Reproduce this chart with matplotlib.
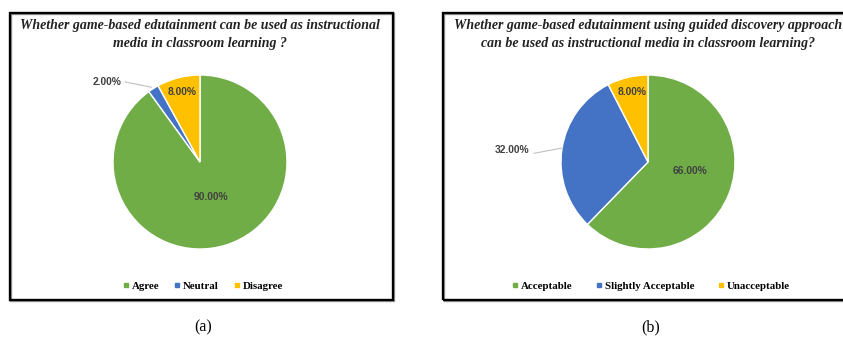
import numpy as np
import matplotlib.pyplot as plt
from matplotlib.patches import Rectangle
from matplotlib.lines import Line2D

W, H = 843, 341

# data
labels_a = ['Agree', 'Neutral', 'Disagree']
values_a = [90, 2, 8]
labels_b = ['Acceptable', 'Slightly Acceptable', 'Unacceptable']
values_b = [66, 32, 8]
colors = ['#70AD47', '#4472C4', '#FFC000']

title_a = 'Whether game-based edutainment can be used as instructional\nmedia in classroom learning ?'
title_b = 'Whether game-based edutainment using guided discovery approach\ncan be used as instructional media in classroom learning?'

# label positions (pie units) and leader lines
pos_a = [(0.12, -0.40), (-1.07, 0.92), (-0.21, 0.80)]
pos_b = [(0.48, -0.10), (-1.56, 0.14), (-0.18, 0.80)]
lead_a = {1: [(-0.86, 0.92), (-0.56, 0.86)]}
lead_b = {1: [(-1.31, 0.10), (-0.99, 0.16)]}

fig = plt.figure(figsize=(W / 100, H / 100), dpi=100)


def fx(px):
    return px / W


def fy(py):
    return 1 - py / H


def box(x0, x1, y0, y1):
    for off, col in [(1.2, '#a0a0a0'), (0, 'black')]:
        r = Rectangle((fx(x0 + off), fy(y1 + off)), fx(x1 - x0), (y1 - y0) / H,
                      transform=fig.transFigure, fill=False, ec=col, lw=1.7,
                      clip_on=False)
        fig.patches.append(r)


def panel(cx, cy, rad, values, labels, title, tcx, pos, leads, legx, colsp):
    ax = fig.add_axes([fx(cx - rad), fy(cy + rad), 2 * rad / W, 2 * rad / H])
    wedges, _ = ax.pie(values, colors=colors, startangle=90, counterclock=False,
                       wedgeprops=dict(edgecolor='white', linewidth=1.0))
    ax.set_xlim(-1, 1)
    ax.set_ylim(-1, 1)
    for i, v in enumerate(values):
        ax.text(pos[i][0], pos[i][1], '%.2f%%' % v, ha='center', va='center',
                fontsize=7.4, fontweight='bold', color='#404040',
                family='Liberation Sans')
    for i, pts in leads.items():
        xs, ys = zip(*pts)
        ax.plot(xs, ys, color='#bfbfbf', lw=0.8, clip_on=False)
    fig.text(fx(tcx), fy(34.5), title, ha='center', va='center', fontsize=10,
             fontweight='bold', style='italic', family='Liberation Serif',
             color='#222222', linespacing=1.4)
    handles = [Line2D([], [], marker='s', color=c, ls='none', markersize=3.2)
               for c in colors]
    fig.legend(handles, labels, loc='center', bbox_to_anchor=(fx(legx), fy(286)),
               ncol=3, frameon=False, prop=dict(family='Liberation Serif',
                                                 weight='bold', size=7.8),
               handletextpad=0.1, columnspacing=colsp, handlelength=0.9)
    return ax


box(10, 393, 13, 300)
box(443, 860, 13, 300)

panel(200, 162, 87, values_a, labels_a, title_a, 200, pos_a, lead_a, 202, 1.2)
panel(648, 162, 87, values_b, labels_b, title_b, 648, pos_b, lead_b, 650, 2.0)

fig.text(fx(203), fy(327), '(a)', ha='center', va='center', fontsize=11.5,
         family='Liberation Serif')
fig.text(fx(651), fy(327), '(b)', ha='center', va='center', fontsize=11.5,
         family='Liberation Serif')

fig.savefig('out.png', dpi=100)
